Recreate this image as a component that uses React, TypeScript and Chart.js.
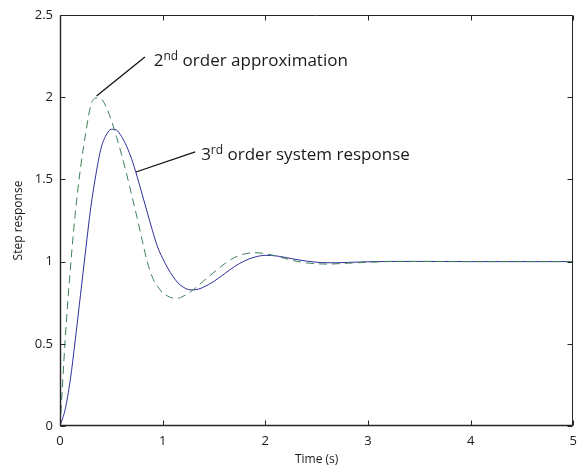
import React, { useEffect, useRef } from "react";
import { Chart, registerables } from "chart.js";

Chart.register(...registerables);

// 3rd order system response (solid blue)
const timeThird = [0, 0.05, 0.1, 0.15, 0.2, 0.25, 0.3, 0.35, 0.4, 0.45, 0.5, 0.55, 0.6, 0.65, 0.7, 0.75, 0.8, 0.85, 0.9, 0.95, 1.0, 1.05, 1.1, 1.15, 1.2, 1.25, 1.3, 1.35, 1.4, 1.5, 1.6, 1.7, 1.8, 1.9, 2.0, 2.1, 2.2, 2.3, 2.4, 2.5, 2.6, 2.7, 2.8, 3.0, 3.2, 3.5, 4.0, 5.0];
const stepThird = [0, 0.1, 0.28, 0.53, 0.8, 1.07, 1.33, 1.53, 1.69, 1.77, 1.805, 1.8, 1.76, 1.7, 1.62, 1.52, 1.41, 1.3, 1.19, 1.09, 1.02, 0.96, 0.91, 0.87, 0.845, 0.83, 0.828, 0.833, 0.845, 0.88, 0.925, 0.97, 1.005, 1.028, 1.038, 1.035, 1.025, 1.013, 1.003, 0.996, 0.993, 0.993, 0.995, 0.999, 1.001, 1.001, 1.0, 1.0];

// 2nd order approximation (dashed green)
const timeSecond = [0, 0.016, 0.05, 0.1, 0.15, 0.2, 0.25, 0.3, 0.35, 0.4, 0.45, 0.5, 0.55, 0.6, 0.65, 0.7, 0.75, 0.8, 0.85, 0.9, 0.95, 1.0, 1.05, 1.1, 1.15, 1.2, 1.25, 1.3, 1.4, 1.5, 1.6, 1.7, 1.8, 1.9, 2.0, 2.1, 2.2, 2.3, 2.4, 2.5, 2.6, 2.7, 2.8, 3.0, 3.2, 3.5, 4.0, 5.0];
const stepSecond = [0, 0.16, 0.52, 0.95, 1.3, 1.57, 1.78, 1.95, 1.995, 1.99, 1.94, 1.86, 1.76, 1.65, 1.53, 1.4, 1.27, 1.13, 1.0, 0.905, 0.85, 0.81, 0.79, 0.778, 0.777, 0.79, 0.807, 0.83, 0.883, 0.935, 0.985, 1.025, 1.047, 1.054, 1.048, 1.035, 1.018, 1.003, 0.992, 0.987, 0.985, 0.987, 0.99, 0.996, 1.0, 1.001, 1.0, 1.0];

const xTickValues = [0, 1, 2, 3, 4, 5];
const yTickValues = [0, 0.5, 1, 1.5, 2, 2.5];

const xTitle = "Time (s)";
const yTitle = "Step response";

// annotations: [text main, superscript, rest], text anchor and leader line (data coords)
const annoSecondText = ["2", "nd", " order approximation"];
const annoSecondTextAt = [0.913, 2.19];
const annoSecondLine = [0.827, 2.245, 0.356, 2.007];
const annoThirdText = ["3", "rd", " order system response"];
const annoThirdTextAt = [1.375, 1.618];
const annoThirdLine = [1.317, 1.667, 0.74, 1.545];

const FONT = "'Open Sans', 'Noto Sans', sans-serif";

const framePlugin = {
  id: "frameTicks",
  afterDatasetsDraw(chart: any) {
    const { ctx, chartArea, scales } = chart;
    const { left, right, top, bottom } = chartArea;
    const x = scales.x;
    const y = scales.y;
    ctx.save();
    ctx.strokeStyle = "#262626";
    ctx.lineWidth = 1;
    const L = Math.round(left) + 0.5;
    const R = Math.round(right) - 0.5;
    const T = Math.round(top) + 0.5;
    const B = Math.round(bottom) - 0.5;
    ctx.beginPath();
    ctx.moveTo(L, T);
    ctx.lineTo(R, T);
    ctx.lineTo(R, B);
    ctx.lineTo(L, B);
    ctx.closePath();
    ctx.stroke();
    ctx.beginPath();
    ctx.lineWidth = 1.4;
    ctx.moveTo(L, T);
    ctx.lineTo(L, B);
    ctx.lineTo(R, B);
    ctx.stroke();
    ctx.lineWidth = 1;
    const tl = 5;
    ctx.beginPath();
    xTickValues.forEach((v) => {
      const px = Math.round(x.getPixelForValue(v)) + 0.5;
      ctx.moveTo(px, B);
      ctx.lineTo(px, B - tl);
      ctx.moveTo(px, T);
      ctx.lineTo(px, T + tl);
    });
    yTickValues.forEach((v) => {
      const py = Math.round(y.getPixelForValue(v)) + 0.5;
      ctx.moveTo(L, py);
      ctx.lineTo(L + tl, py);
      ctx.moveTo(R, py);
      ctx.lineTo(R - tl, py);
    });
    ctx.stroke();

    // annotations
    const drawAnno = (parts: string[], at: number[], line: number[]) => {
      ctx.strokeStyle = "#111";
      ctx.lineWidth = 1.3;
      ctx.beginPath();
      ctx.moveTo(x.getPixelForValue(line[0]), y.getPixelForValue(line[1]));
      ctx.lineTo(x.getPixelForValue(line[2]), y.getPixelForValue(line[3]));
      ctx.stroke();
      let tx = x.getPixelForValue(at[0]);
      const ty = y.getPixelForValue(at[1]);
      ctx.fillStyle = "#1a1a1a";
      ctx.textBaseline = "alphabetic";
      ctx.textAlign = "left";
      ctx.font = `17px ${FONT}`;
      ctx.fillText(parts[0], tx, ty);
      tx += ctx.measureText(parts[0]).width;
      ctx.font = `12px ${FONT}`;
      ctx.fillText(parts[1], tx, ty - 6);
      tx += ctx.measureText(parts[1]).width;
      ctx.font = `17px ${FONT}`;
      ctx.fillText(parts[2], tx, ty);
    };
    drawAnno(annoSecondText, annoSecondTextAt, annoSecondLine);
    drawAnno(annoThirdText, annoThirdTextAt, annoThirdLine);
    ctx.restore();
  },
};

export default function App() {
  const ref = useRef<HTMLCanvasElement | null>(null);
  useEffect(() => {
    if (!ref.current) return;
    const chart = new Chart(ref.current, {
      type: "line",
      data: {
        datasets: [
          {
            label: "2nd order approximation",
            data: timeSecond.map((t, i) => ({ x: t, y: stepSecond[i] })),
            borderColor: "#3f8058",
            borderWidth: 1,
            borderDash: [8, 5],
            pointRadius: 0,
            fill: false,
            cubicInterpolationMode: "monotone",
          },
          {
            label: "3rd order system response",
            data: timeThird.map((t, i) => ({ x: t, y: stepThird[i] })),
            borderColor: "#2e2e9e",
            borderWidth: 1,
            pointRadius: 0,
            fill: false,
            cubicInterpolationMode: "monotone",
          },
        ],
      },
      options: {
        responsive: false,
        animation: false,
        layout: { padding: { left: 0, right: 4, top: 15, bottom: 0 }, autoPadding: false },
        plugins: { legend: { display: false }, tooltip: { enabled: false } },
        scales: {
          x: {
            type: "linear",
            min: 0,
            max: 5,
            afterFit: (a: any) => { a.height = 45; },
            afterBuildTicks: (a: any) => { a.ticks = xTickValues.map((v) => ({ value: v })); },
            grid: { display: false, drawTicks: false },
            border: { display: false },
            ticks: { padding: 7, color: "#1a1a1a", font: { family: FONT, size: 13 }, callback: (v: any) => String(v), maxRotation: 0 },
            title: { display: true, text: xTitle, color: "#1a1a1a", font: { family: FONT, size: 12 }, padding: { top: 0, bottom: 4 } },
          },
          y: {
            type: "linear",
            min: 0,
            max: 2.5,
            afterFit: (a: any) => { a.width = 60; },
            afterBuildTicks: (a: any) => { a.ticks = yTickValues.map((v) => ({ value: v })); },
            grid: { display: false, drawTicks: false },
            border: { display: false },
            ticks: { padding: 7, color: "#1a1a1a", font: { family: FONT, size: 13 }, callback: (v: any) => String(v) },
            title: { display: true, text: yTitle, color: "#1a1a1a", font: { family: FONT, size: 12 }, padding: { top: 11, bottom: 0 } },
          },
        },
      },
      plugins: [framePlugin],
    } as any);
    return () => chart.destroy();
  }, []);
  return (
    <div style={{ position: "fixed", left: 0, top: 0, width: 584, height: 471, background: "#fff" }}>
      <canvas ref={ref} width={584} height={471} style={{ width: 584, height: 471, display: "block" }} />
    </div>
  );
}
